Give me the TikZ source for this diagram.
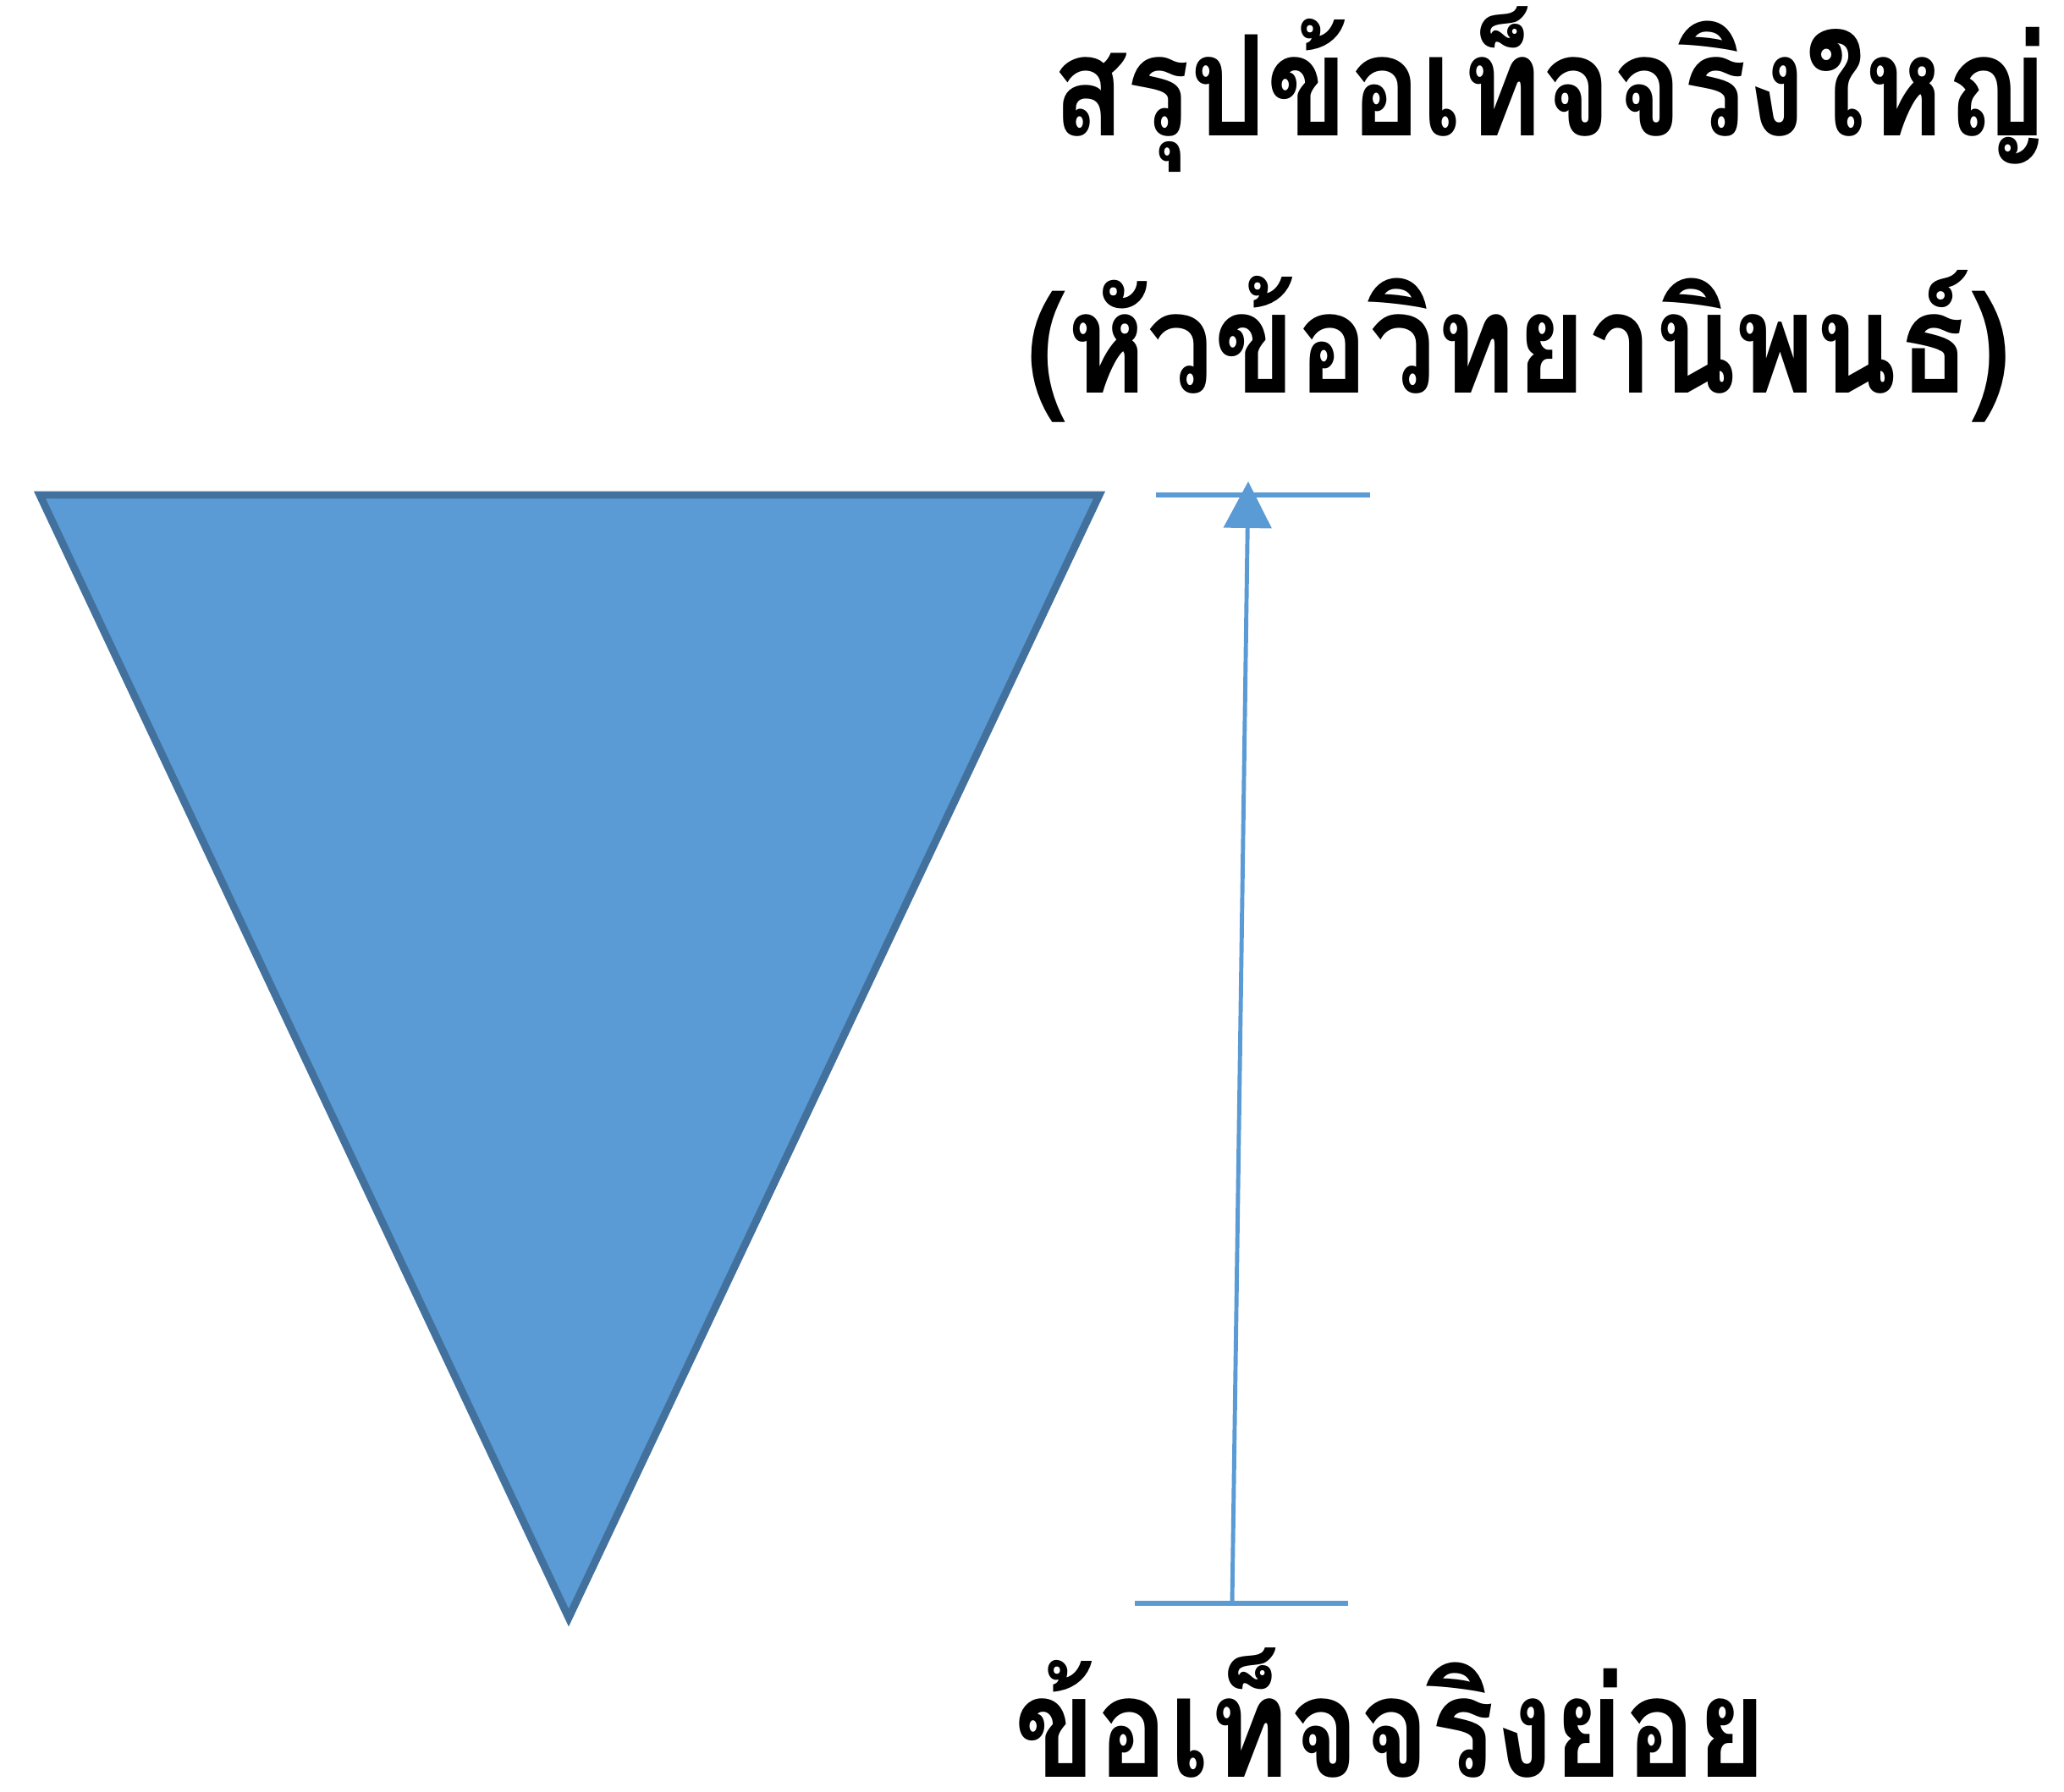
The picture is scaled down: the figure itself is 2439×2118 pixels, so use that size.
\documentclass[tikz,border=0pt]{standalone}
\usepackage{fontspec}
\newfontfamily\thaifont[Script=Thai, FakeStretch=0.86]{Loma}
\usepackage{xcolor}
\usepackage{tikz}
\usetikzlibrary{arrows.meta}
\definecolor{fillblue}{HTML}{5B9BD5}
\definecolor{edgeblue}{HTML}{41719C}

\begin{document}
\begin{tikzpicture}[
		x=0.01cm, y=-0.01cm,
		thaitext/.style={inner sep=0pt, font=\thaifont\bfseries\fontsize{47}{51}\selectfont},
		bar/.style={draw=fillblue, line width=1.7pt},
		span/.style={-{Triangle[width=0.56cm, length=0.55cm]}, draw=fillblue, line width=1.4pt}
		]
		\useasboundingbox (0,0) rectangle (2439,2118);
		\fill[fillblue, draw=edgeblue, line width=2.55pt, line join=miter] (47,585) -- (1299,585) -- (672,1912) -- cycle;
		\node[thaitext, anchor=base east] (major) at (2419,160) {สรุปข้อเท็จจริงใหญ่};
		\node[thaitext, anchor=base] (topic) at (1795,464) {(หัวข้อวิทยานิพนธ์)};
		\node[thaitext, text depth=0pt, anchor=base west] (minor) at (1198,2100) {ข้อเท็จจริงย่อย};
		
		\coordinate (apex) at (1475,569);
		\coordinate (base) at (1456,1895);
		\draw[bar] (1366,585) -- (1619,585);
		\draw[bar] (1341,1895) -- (1593,1895);
		\draw[span] (base) -- (apex);
	\end{tikzpicture}
\end{document}
